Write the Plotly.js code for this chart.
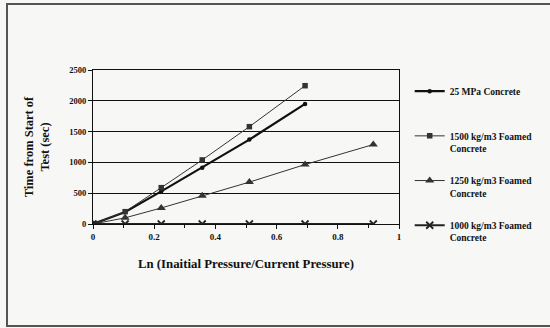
<!DOCTYPE html>
<html>
<head>
<meta charset="utf-8">
<script src="https://cdn.plot.ly/plotly-3.0.1.min.js"></script>
<style>
  html, body { margin: 0; padding: 0; background: #f7f7f5; }
  #wrap { position: relative; width: 550px; height: 328px; overflow: hidden; background: #f7f7f5; }
  #frame { position: absolute; left: 6px; top: 3px; width: 560px; height: 324px; border: 2px solid #555; box-sizing: border-box; }
  #chart { position: absolute; left: 0; top: 0; width: 550px; height: 328px; }
</style>
</head>
<body>
<div id="wrap">
  <div id="frame"></div>
  <div id="chart"></div>
</div>
<script>
// Data
const lnRatio = [0, 0.105, 0.223, 0.357, 0.511, 0.693, 0.916];
const seriesNames = [
  "25 MPa Concrete<br> ",
  "1500 kg/m3 Foamed<br>Concrete",
  "1250 kg/m3 Foamed<br>Concrete",
  "1000 kg/m3 Foamed<br>Concrete"
];
const mpa25 = [0, 195, 530, 915, 1370, 1950];
const foamed1500 = [0, 200, 590, 1040, 1580, 2245];
const foamed1250 = [0, 100, 260, 460, 680, 965, 1290];
const foamed1000 = [0, 0, 0, 0, 0, 0, 0];
const yTicks = [0, 500, 1000, 1500, 2000, 2500];
const xTicks = [0, 0.2, 0.4, 0.6, 0.8, 1];
const xTickText = ["0", "0.2", "0.4", "0.6", "0.8", "1"];

const serif = "Liberation Serif, Times New Roman, serif";

const traces = [
  {
    x: lnRatio.slice(0, mpa25.length), y: mpa25, name: seriesNames[0],
    mode: "lines+markers", legendgroup: "a",
    line: {color: "#111", width: 2.2},
    marker: {symbol: "circle", size: 4.5, color: "#111"}
  },
  {
    x: lnRatio.slice(0, foamed1500.length), y: foamed1500, name: seriesNames[1],
    mode: "lines+markers", legendgroup: "b",
    line: {color: "#333", width: 1},
    marker: {symbol: "square", size: 5.5, color: "#333"}
  },
  {
    x: lnRatio.slice(0, foamed1250.length), y: foamed1250, name: seriesNames[2],
    mode: "lines+markers", legendgroup: "c",
    line: {color: "#333", width: 1},
    marker: {symbol: "triangle-up", size: 8, color: "#333"}
  },
  {
    x: lnRatio.slice(0, foamed1000.length), y: foamed1000, name: seriesNames[3],
    mode: "lines+markers", legendgroup: "d",
    line: {color: "#222", width: 1.8},
    marker: {symbol: "x-thin-open", size: 7, color: "#222", line: {width: 1.8, color: "#222"}}
  }
];

const layout = {
  width: 550, height: 328,
  paper_bgcolor: "rgba(0,0,0,0)",
  plot_bgcolor: "rgba(0,0,0,0)",
  margin: {l: 93, r: 149, t: 70, b: 104},
  font: {family: serif, color: "#111", size: 9},
  showlegend: true,
  legend: {
    x: 1.035, xanchor: "left", y: 0.945, yanchor: "top",
    bgcolor: "rgba(0,0,0,0)",
    font: {family: serif, size: 9.5, color: "#111", weight: "bold"},
    valign: "top", tracegroupgap: 17, itemwidth: 30, maxheight: 320
  },
  xaxis: {
    range: [0, 1], tickvals: xTicks, ticktext: xTickText,
    showgrid: false, zeroline: false,
    showline: true, linecolor: "#111", linewidth: 1, mirror: true,
    ticks: "outside", ticklen: 4, tickcolor: "#111",
    minor: {dtick: 0.1, ticks: "outside", ticklen: 3, tickcolor: "#111"},
    tickfont: {family: serif, size: 9, color: "#111", weight: "bold"},
    title: {text: "<b>Ln (Inaitial Pressure/Current Pressure)</b>", font: {family: serif, size: 12.8, color: "#111"}, standoff: 18}
  },
  yaxis: {
    range: [0, 2500], tickvals: yTicks,
    showgrid: true, gridcolor: "#111", gridwidth: 1, zeroline: false,
    showline: true, linecolor: "#111", linewidth: 1, mirror: true,
    ticks: "outside", ticklen: 4, tickcolor: "#111",
    tickfont: {family: serif, size: 8.5, color: "#111", weight: "bold"},
    title: {text: "<b>Time from Start of<br>Test (sec)</b>", font: {family: serif, size: 12.5, color: "#111"}, standoff: 16}
  }
};

Plotly.newPlot("chart", traces, layout, {displayModeBar: false, staticPlot: true});
</script>
</body>
</html>
